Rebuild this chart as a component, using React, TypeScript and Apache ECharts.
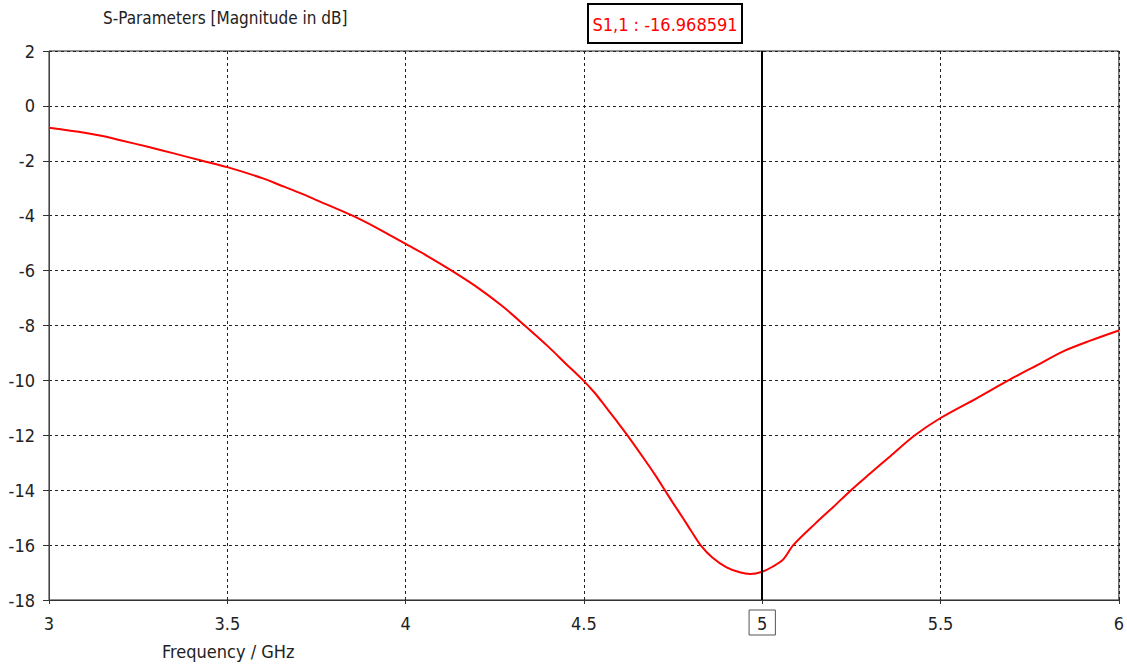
import React, { useEffect, useRef } from "react";
import * as echarts from "echarts";

// S1,1 magnitude sweep (GHz, dB)
const freqGHz = [
  3.0, 3.1, 3.15, 3.2, 3.28, 3.35, 3.43, 3.5, 3.6, 3.647, 3.703, 3.75, 3.848,
  3.92, 4.0, 4.06, 4.129, 4.2, 4.27, 4.334, 4.4, 4.45, 4.498, 4.53, 4.559, 4.59,
  4.622, 4.67, 4.7, 4.727, 4.75, 4.778, 4.8, 4.827, 4.86, 4.9, 4.937, 4.966,
  5.0, 5.03, 5.059, 5.087, 5.15, 5.2, 5.249, 5.3, 5.36, 5.428, 5.5, 5.6, 5.69,
  5.77, 5.844, 5.92, 6.0,
];
const s11dB = [
  -0.8, -0.98, -1.1, -1.25, -1.5, -1.73, -2.0, -2.23, -2.64, -2.88, -3.17,
  -3.43, -3.98, -4.45, -5.03, -5.46, -6.0, -6.6, -7.28, -8.0, -8.77, -9.4,
  -10.0, -10.45, -10.93, -11.45, -12.0, -12.88, -13.45, -14.0, -14.47, -15.02,
  -15.47, -16.0, -16.45, -16.81, -16.99, -17.05, -16.968591, -16.78, -16.52,
  -16.0, -15.2, -14.6, -14.0, -13.42, -12.75, -12.0, -11.37, -10.66, -10.0,
  -9.45, -8.94, -8.55, -8.18,
];

const markerFreq = 5;
const markerValue = -16.968591;
const markerName = "S1,1";

const chartTitle = "S-Parameters [Magnitude in dB]";
const xAxisTitle = "Frequency / GHz";

const FONT = "'DejaVu Sans Condensed', 'DejaVu Sans', Tahoma, sans-serif";

export default function App() {
  const ref = useRef<HTMLDivElement>(null);

  useEffect(() => {
    if (!ref.current) return;
    const chart = echarts.init(ref.current, null, { renderer: "svg" });
    const points = freqGHz.map((f, i) => [f, s11dB[i]]);

    const labelPad = [4, 8, 3, 8];

    chart.setOption({
      animation: false,
      backgroundColor: "#ffffff",
      textStyle: { fontFamily: FONT },
      grid: {
        left: 49,
        top: 51,
        right: 8,
        bottom: 70,
        show: true,
        borderColor: "#222",
        borderWidth: 1,
      },
      xAxis: {
        type: "value",
        min: 3,
        max: 6,
        interval: 0.5,
        axisLine: {
          show: true,
          onZero: false,
          lineStyle: { color: "#333", width: 1 },
        },
        axisTick: { show: true, length: 4, lineStyle: { color: "#333" } },
        axisLabel: {
          color: "#222",
          fontSize: 18,
          fontFamily: FONT,
          margin: 10,
          formatter: (v: number) =>
            v === markerFreq ? `{box|${v}}` : `{plain|${v}}`,
          rich: {
            plain: {
              fontSize: 18,
              fontFamily: FONT,
              color: "#222",
              padding: labelPad,
            },
            box: {
              fontSize: 18,
              fontFamily: FONT,
              color: "#222",
              borderColor: "#555",
              borderWidth: 1,
              padding: labelPad,
            },
          },
        },
        splitLine: {
          show: true,
          lineStyle: { color: "#222", type: [3, 3], width: 1 },
        },
      },
      yAxis: {
        type: "value",
        min: -18,
        max: 2,
        interval: 2,
        axisLine: {
          show: true,
          onZero: false,
          lineStyle: { color: "#444", width: 1 },
        },
        axisTick: { show: true, length: 6, lineStyle: { color: "#333" } },
        axisLabel: { color: "#222", fontSize: 18, fontFamily: FONT, margin: 14 },
        splitLine: {
          show: true,
          lineStyle: { color: "#222", type: [3, 3], width: 1 },
        },
      },
      series: [
        {
          type: "line",
          data: points,
          smooth: 0.3,
          showSymbol: false,
          lineStyle: { color: "#ff0000", width: 2 },
          markLine: {
            silent: true,
            symbol: "none",
            label: { show: false },
            lineStyle: { color: "#000", width: 2, type: "solid" },
            data: [{ xAxis: markerFreq }],
          },
        },
      ],
      graphic: [
        {
          type: "text",
          left: 103,
          top: 9,
          style: {
            text: chartTitle,
            fill: "#222",
            font: `17px ${FONT}`,
          },
        },
        {
          type: "text",
          left: 162,
          top: 642,
          style: {
            text: xAxisTitle,
            fill: "#222",
            font: `18px ${FONT}`,
          },
        },
        {
          type: "group",
          left: 587,
          top: 3,
          children: [
            {
              type: "rect",
              shape: { x: 1, y: 1, width: 154, height: 39 },
              style: { fill: "#fff", stroke: "#000", lineWidth: 2 },
            },
            {
              type: "text",
              x: 78,
              y: 21,
              style: {
                text: `${markerName} : ${markerValue.toFixed(6)}`,
                fill: "#ff0000",
                font: `18px ${FONT}`,
                align: "center",
                verticalAlign: "middle",
              },
            },
          ],
        },
      ],
    });

    return () => chart.dispose();
  }, []);

  return (
    <div
      ref={ref}
      style={{ position: "fixed", left: 0, top: 0, width: 1127, height: 670 }}
    />
  );
}
